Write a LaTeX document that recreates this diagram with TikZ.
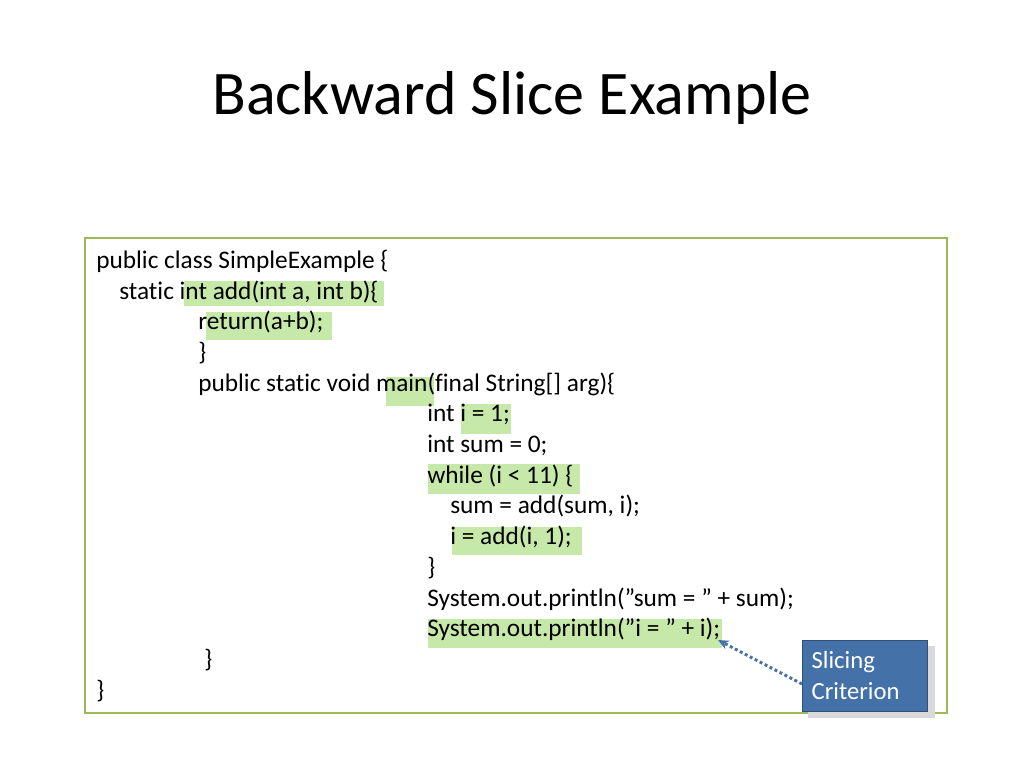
\documentclass[tikz,border=0pt]{standalone}
\usepackage{fontspec}
\setmainfont{Carlito}[Ligatures=NoCommon]
\usetikzlibrary{arrows.meta}
\definecolor{framegreen}{HTML}{9BBB59}
\definecolor{hlgreen}{HTML}{C6E8A8}
\definecolor{critblue}{HTML}{4472A8}
\newcommand{\dq}{\char34\relax}
\begin{document}
\begin{tikzpicture}[x=0.75pt,y=-0.75pt]
  \tikzset{code/.style={anchor=west, inner sep=0pt, font=\fontsize{19}{21}\selectfont},
           hl/.style={fill=hlgreen, draw=none}}
  \useasboundingbox (0,0) rectangle (1024,768);
  \node (title) at (512,98) {\fontsize{46.5}{50}\selectfont Backward Slice Example};
  % highlights
  \fill[hl] (184,281) rectangle (384,306);
  \fill[hl] (206,312) rectangle (332,340);
  \fill[hl] (386,377) rectangle (434,406);
  \fill[hl] (461,404) rectangle (511,434);
  \fill[hl] (428,464) rectangle (580,494);
  \fill[hl] (452,527) rectangle (582,555);
  \fill[hl] (428,619) rectangle (722,648);
  % frame
  \draw[framegreen, line width=2.2pt] (85,238) rectangle (947,713);
  % code
  \node[code] (l1) at (96,261) {public class SimpleExample \{};
  \node[code] (l2) at (119,292) {static int add(int a, int b)\{};
  \node[code] (l3) at (198,322) {return(a+b);};
  \node[code] (l4) at (198,353) {\}};
  \node[code] (l5) at (198,384) {public static void main(final String[] arg)\{};
  \node[code] (l6) at (427,414) {int i = 1;};
  \node[code] (l7) at (427,445) {int sum = 0;};
  \node[code] (l8) at (427,476) {while (i < 11) \{};
  \node[code] (l9) at (450,506) {sum = add(sum, i);};
  \node[code] (l10) at (450,537) {i = add(i, 1);};
  \node[code] (l11) at (427,568) {\}};
  \node[code] (l12) at (427,599) {System.out.println(\dq sum = \dq\ + sum);};
  \node[code] (l13) at (427,629) {System.out.println(\dq i = \dq\ + i);};
  \node[code] (l14) at (204,660) {\}};
  \node[code] (l15) at (96,691) {\}};
  % slicing criterion
  \fill[black!15] (808,646) rectangle (935,718);
  \node[fill=critblue, draw=critblue!70!black, text=white, minimum width=94pt, minimum height=53pt,
        anchor=north west, align=left, inner xsep=7pt, text width=80pt,
        font=\fontsize{18.5}{23}\selectfont] (crit) at (802,640) {Slicing\\Criterion};
  \coordinate (tgt) at (718,640);
  \draw[critblue, line width=2.2pt, dotted, -{Stealth[length=8pt,width=7pt]}] (crit.west |- 0,684) -- (tgt);
\end{tikzpicture}
\end{document}
